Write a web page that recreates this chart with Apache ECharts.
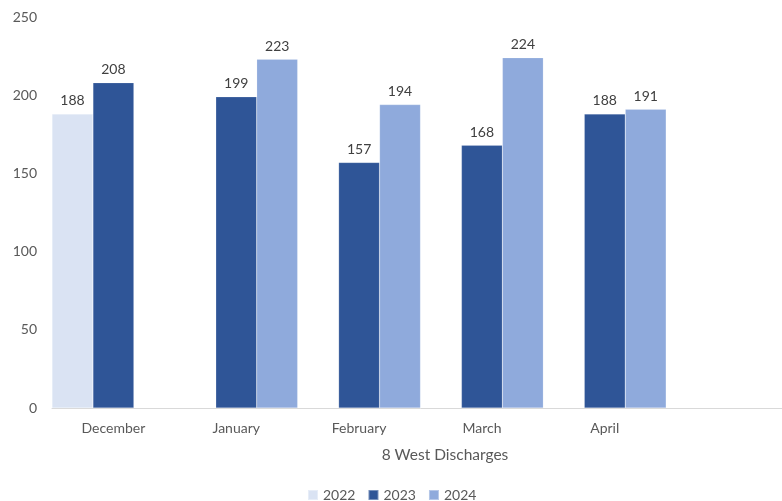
<!DOCTYPE html>
<html><head><meta charset="utf-8">
<script src="https://cdn.jsdelivr.net/npm/echarts@6/dist/echarts.min.js"></script>
<style>html,body{margin:0;padding:0;background:#fff;overflow:hidden}#c{width:789px;height:501px}</style>
</head><body><div id="c"></div>
<script>
const categories = ['December', 'January', 'February', 'March', 'April', ''];
const s2022 = [188, null, null, null, null, null];
const s2023 = [208, 199, 157, 168, 188, null];
const s2024 = [null, 223, 194, 224, 191, null];
const yTicks = { min: 0, max: 250, interval: 50 };
const FONT = 'Lato';

const chart = echarts.init(document.getElementById('c'), null, { renderer: 'canvas' });
const lbl = { show: true, position: 'top', distance: 6, color: '#404040', fontSize: 14, fontFamily: FONT };
function ser(name, data, color) {
  return { name, type: 'bar', data, barGap: '0%', barCategoryGap: '0%',
    itemStyle: { color, borderColor: 'rgba(255,255,255,0.35)', borderWidth: 0.5 }, label: lbl };
}
chart.setOption({
  animation: false,
  textStyle: { fontFamily: FONT },
  title: { text: '8 West Discharges', left: 440, top: 442, textAlign: 'center',
    textStyle: { fontSize: 15.5, fontWeight: 'normal', color: '#595959', fontFamily: FONT } },
  legend: { top: 483, left: 302, itemWidth: 10, itemHeight: 10, itemGap: 12,
    icon: 'rect', textStyle: { fontSize: 14, color: '#595959', fontFamily: FONT },
    data: ['2022', '2023', '2024'] },
  grid: { left: 52, top: 17, bottom: 93, right: 0, containLabel: false },
  xAxis: { type: 'category', data: categories,
    axisLine: { lineStyle: { color: '#d9d9d9', width: 1 } }, axisTick: { show: false },
    axisLabel: { color: '#595959', fontSize: 14, fontFamily: FONT, margin: 13 } },
  yAxis: { type: 'value', min: yTicks.min, max: yTicks.max, interval: yTicks.interval,
    splitLine: { show: false }, axisLine: { show: false }, axisTick: { show: false },
    axisLabel: { color: '#595959', fontSize: 14, fontFamily: FONT, margin: 15 } },
  series: [ser('2022', s2022, '#DAE3F3'), ser('2023', s2023, '#2F5597'), ser('2024', s2024, '#8FAADC')]
});
</script></body></html>
